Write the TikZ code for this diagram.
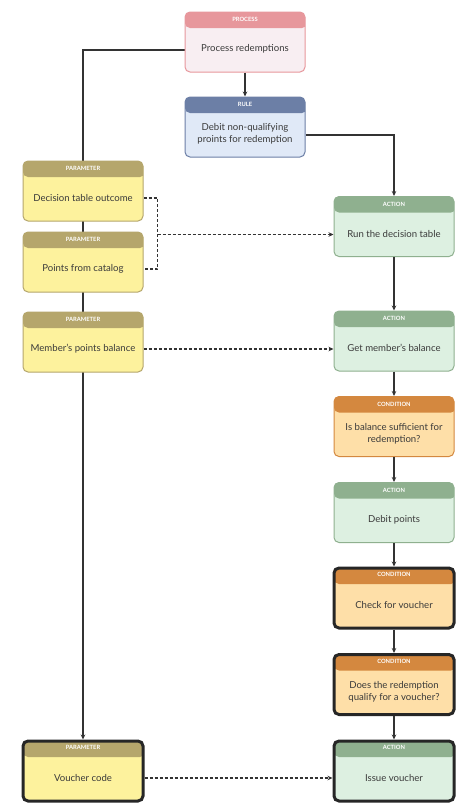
\documentclass[tikz,border=0pt]{standalone}
\usepackage{fontspec}
\setmainfont{Lato}
\usetikzlibrary{arrows.meta,backgrounds}
\definecolor{prH}{HTML}{E7979C}\definecolor{prB}{HTML}{F8EEF2}
\definecolor{ruH}{HTML}{6C7FA6}\definecolor{ruB}{HTML}{E0E9F7}
\definecolor{paH}{HTML}{B5A66C}\definecolor{paB}{HTML}{FDF29D}
\definecolor{acH}{HTML}{8FB08F}\definecolor{acB}{HTML}{DDF0E1}
\definecolor{coH}{HTML}{D4883F}\definecolor{coB}{HTML}{FEDFA8}
\definecolor{lineC}{HTML}{333333}
\definecolor{txtC}{HTML}{3A3A3A}
\tikzset{
 x=1pt,y=1pt,
 boxbase/.style={rectangle, rounded corners=5pt, minimum width=120pt, minimum height=60pt, inner sep=0pt},
 hdr/.style={path picture={\fill[#1] ([yshift=2pt]path picture bounding box.north west) rectangle ([yshift=-16pt,xshift=2pt]path picture bounding box.north east);}},
 procbox/.style={boxbase, fill=prB, draw=prH, line width=1pt, hdr=prH},
 rulebox/.style={boxbase, fill=ruB, draw=ruH, line width=1pt, hdr=ruH},
 parbox/.style={boxbase, fill=paB, draw=paH, line width=1pt, hdr=paH},
 actbox/.style={boxbase, fill=acB, draw=acH, line width=1pt, hdr=acH},
 condbox/.style={boxbase, fill=coB, draw=coH, line width=1pt, hdr=coH},
 thick box/.style={draw=black!85, line width=3pt},
 headtxt/.style={text=white, font=\fontsize{5.8}{6}\selectfont\bfseries, inner sep=0pt},
 bodytxt/.style={text=txtC, font=\fontsize{9.6}{12}\selectfont, align=center, inner sep=0pt},
 conn/.style={draw=lineC, line width=1.1pt, -{Stealth[length=5pt,width=4.5pt]}},
 dconn/.style={draw=lineC, line width=1.1pt, dash pattern=on 3pt off 2pt},
}
\newcommand\flowblk[6]{%
 \node[#4] (#1) at (#2,#3) {};
 \node[headtxt] (#1h) at ([yshift=-8pt]#1.north) {#5};
 \node[bodytxt] (#1t) at ([yshift=-7pt]#1.center) {#6};
}
\begin{document}
\begin{tikzpicture}
\useasboundingbox (0,0) rectangle (474,-812);
\flowblk{P}{245}{-42}{procbox}{PROCESS}{Process redemptions}
\flowblk{R}{245}{-127}{rulebox}{RULE}{Debit non-qualifying\\proints for redemption}
\flowblk{D}{83}{-191}{parbox}{PARAMETER}{Decision table outcome}
\flowblk{Pts}{83}{-262}{parbox}{PARAMETER}{Points from catalog}
\flowblk{M}{83}{-342}{parbox}{PARAMETER}{Member's points balance}
\flowblk{V}{83}{-771}{parbox,thick box}{PARAMETER}{Voucher code}
\flowblk{Run}{394}{-226.5}{actbox}{ACTION}{Run the decision table}
\flowblk{G}{394}{-341}{actbox}{ACTION}{Get member's balance}
\flowblk{Ca}{394}{-426.5}{condbox}{CONDITION}{Is balance sufficient for\\redemption?}
\flowblk{Db}{394}{-512.5}{actbox}{ACTION}{Debit points}
\flowblk{Ck}{394}{-598}{condbox,thick box}{CONDITION}{Check for voucher}
\flowblk{Dq}{394}{-684.5}{condbox,thick box}{CONDITION}{Does the redemption\\qualify for a voucher?}
\flowblk{Iv}{394}{-771}{actbox,thick box}{ACTION}{Issue voucher}
\coordinate (runin) at ([yshift=-8pt]Run.west);
\path ([yshift=-7pt]D.east) ++(14,0) coordinate (brk);
\begin{scope}[on background layer]
 \fill[white] (0,0) rectangle (474,-812);
 \draw[conn] ([yshift=-8pt]P.west) -| (V.north);
 \draw[conn] ([yshift=-8pt]R.east) -| (Run.north);
 \draw[dconn] ([yshift=-7pt]D.east) -- (brk) |- ([yshift=-7pt]Pts.east);
\end{scope}
\draw[conn] (P) -- (R);
\draw[conn] (Run) -- (G);
\draw[conn] (G) -- (Ca);
\draw[conn] (Ca) -- (Db);
\draw[conn] (Db) -- (Ck);
\draw[conn] (Ck) -- (Dq);
\draw[conn] (Dq) -- (Iv);
\draw[dconn, -{Stealth[length=5pt,width=4.5pt]}] (brk |- runin) -- (runin);
\draw[dconn, -{Stealth[length=5pt,width=4.5pt]}] ([yshift=-7pt]M.east) -- ([yshift=-7pt]M.east -| G.west);
\draw[dconn, -{Stealth[length=5pt,width=4.5pt]}] ([yshift=-7pt]V.east) -- ([yshift=-7pt]V.east -| Iv.west);
\end{tikzpicture}
\end{document}
